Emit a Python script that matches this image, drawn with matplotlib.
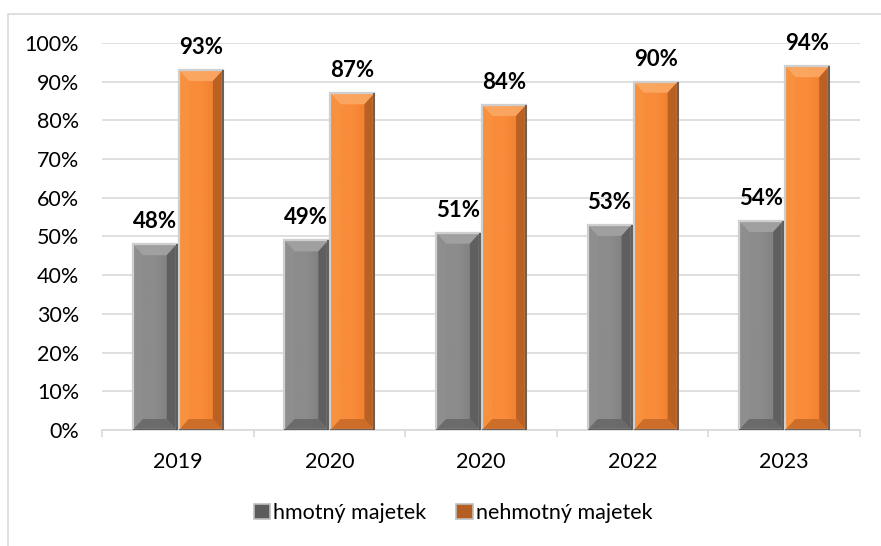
import matplotlib
matplotlib.use("Agg")
import matplotlib.pyplot as plt
from matplotlib.patches import Polygon, Rectangle
from matplotlib.colors import LinearSegmentedColormap
from matplotlib.ticker import PercentFormatter
import numpy as np

# data
years = ["2019", "2020", "2020", "2022", "2023"]
hmotny = [0.48, 0.49, 0.51, 0.53, 0.54]
nehmotny = [0.93, 0.87, 0.84, 0.90, 0.94]
series_names = ["hmotný majetek", "nehmotný majetek"]

plt.rcParams['font.family'] = ['Lato', 'DejaVu Sans']

W, H = 881, 546
fig = plt.figure(figsize=(W / 100, H / 100), dpi=100)

# axes placed in pixel terms
ax_l, ax_r, ax_b, ax_t = 102, 860, 116, 503
ax = fig.add_axes([ax_l / W, ax_b / H, (ax_r - ax_l) / W, (ax_t - ax_b) / H])

# light frame of the chart area (only top/left visible in reference)
fig.add_artist(Rectangle((8 / W, -0.01), 1.0, (H - 14) / H + 0.01,
                         transform=fig.transFigure, fill=False,
                         edgecolor='#d9d9d9', linewidth=1.2))

x = np.arange(len(years))
bar_w = 0.29
offset = 0.152
ax.set_xlim(-0.5, len(years) - 0.5)
ax.set_ylim(0, 1.0)

px_x = len(years) / (ax_r - ax_l)   # data units per pixel
px_y = 1.0 / (ax_t - ax_b)

styles = {
    0: dict(left='#8c8c8c', right='#7a7a7a', top='#a3a3a3', lbev='#8f8f8f',
            rbev='#5c5c5c', bot='#686868', edge='#4a4a4a'),
    1: dict(left='#f98c3a', right='#ec7a2c', top='#fba865', lbev='#f8923f',
            rbev='#b45e22', bot='#c86b28', edge='#5a4a40'),
}


def bevel_bar(xc, h, st):
    x0, x1 = xc - bar_w / 2, xc + bar_w / 2
    bx, by = 10 * px_x, 11 * px_y
    rect = Rectangle((x0, 0), bar_w, h, facecolor='none',
                     edgecolor='#cfcfcf', linewidth=1.6, zorder=4)
    ax.add_patch(rect)
    cmap = LinearSegmentedColormap.from_list('f', [st['left'], st['left'], st['right']])
    grad = np.linspace(0, 1, 64).reshape(1, -1)
    im = ax.imshow(grad, extent=(x0, x1, 0, h), aspect='auto', cmap=cmap,
                   zorder=3, interpolation='bilinear')
    im.set_clip_path(rect)
    polys = [
        ([(x0, h), (x1, h), (x1 - bx, h - by), (x0 + bx, h - by)], st['top']),
        ([(x0, 0), (x0, h), (x0 + bx, h - by), (x0 + bx, by)], st['lbev']),
        ([(x1, 0), (x1, h), (x1 - bx, h - by), (x1 - bx, by)], st['rbev']),
        ([(x0, 0), (x1, 0), (x1 - bx, by), (x0 + bx, by)], st['bot']),
    ]
    for pts, col in polys:
        ax.add_patch(Polygon(pts, closed=True, facecolor=col, edgecolor='none',
                             alpha=0.9, zorder=3.5))
    ax.plot([x1, x1, x0], [h, 0, 0], color=st['edge'], linewidth=1.2, zorder=4.5,
            solid_capstyle='butt')


for i, vals in enumerate([hmotny, nehmotny]):
    for xi, v in zip(x, vals):
        xc = xi - offset if i == 0 else xi + offset
        bevel_bar(xc, v, styles[i])
        ax.annotate(f"{v * 100:.0f}%", (xc, v), xytext=(0, 12),
                    textcoords='offset pixels', ha='center', va='bottom',
                    fontsize=16, fontweight='bold', color='black', zorder=6)

ax.yaxis.set_major_locator(plt.MultipleLocator(0.1))
ax.yaxis.set_major_formatter(PercentFormatter(1.0, decimals=0))
ax.grid(axis='y', color='#d9d9d9', linewidth=1.2)
ax.set_axisbelow(True)
for s in ['top', 'right', 'left']:
    ax.spines[s].set_visible(False)
ax.spines['bottom'].set_color('#d9d9d9')
ax.spines['bottom'].set_linewidth(1.2)
ax.set_xticks(x)
ax.set_xticklabels(years)
ax.set_xticks(np.arange(-0.5, len(years)), minor=True)
ax.tick_params(axis='x', which='major', length=0, pad=16, labelsize=15.5)
ax.tick_params(axis='x', which='minor', length=5, color='#d9d9d9', width=1.2)
ax.tick_params(axis='y', length=0, pad=16.5, labelsize=15.5)

# legend squares
handles = [Rectangle((0, 0), 1, 1, facecolor=styles[i]['rbev'], edgecolor='#bfbfbf',
                     linewidth=1.2) for i in range(2)]
fig.legend(handles, series_names, loc='center', bbox_to_anchor=(453 / W, 1 - 513 / H),
           ncol=2, frameon=False, fontsize=15.5, handlelength=0.75, handleheight=0.75,
           handletextpad=0.15, columnspacing=1.4)

fig.savefig("out.png", dpi=100)
